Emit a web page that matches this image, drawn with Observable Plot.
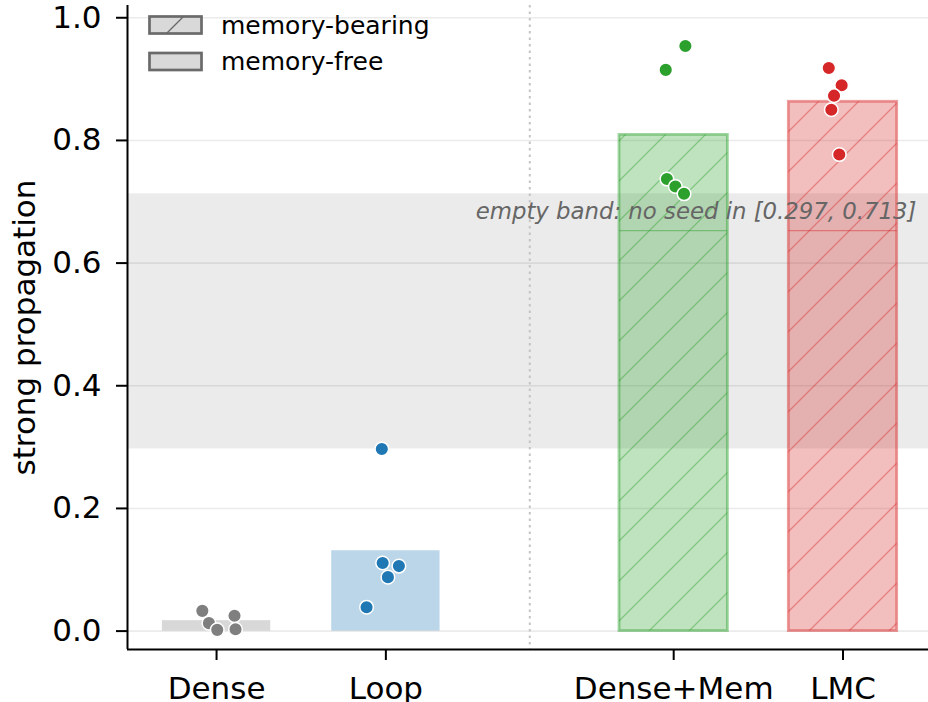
<!DOCTYPE html>
<html><head><meta charset="utf-8">
<script src="https://cdn.jsdelivr.net/npm/d3@7"></script>
<script src="https://cdn.jsdelivr.net/npm/@observablehq/plot@0.6"></script>
<style>
body{margin:0;background:#fff;}
#chart{width:928px;height:702px;}
svg{font-family:"DejaVu Sans",sans-serif;}
</style></head><body><div id="chart"></div>
<script>
// ---- data ----
const groups = ["Dense", "Loop", "Dense+Mem", "LMC"];
const groupPos = [0, 1, 2.7, 3.7];
const groupColors = ["#7f7f7f", "#1f77b4", "#2ca02c", "#d62728"];
const memoryBearing = [false, false, true, true];
const barMeans = [0.017, 0.131, 0.809, 0.863];
const seedGroup  = [0,0,0,0,0, 1,1,1,1,1, 2,2,2,2,2, 3,3,3,3,3];
const seedJitter = [-0.084,-0.045,0.004,0.106,0.112, -0.024,-0.019,0.077,0.012,-0.114, 0.069,-0.047,-0.040,0.010,0.061, -0.084,-0.008,-0.053,-0.069,-0.022];
const seedValue  = [0.033,0.013,0.002,0.025,0.003, 0.297,0.111,0.106,0.088,0.039, 0.954,0.915,0.737,0.725,0.713, 0.918,0.890,0.873,0.850,0.777];
const emptyBand = [0.297, 0.713];
const bandNote = "empty band: no seed in [0.297, 0.713]";
const separatorPos = [1.85];
const hatchSeam = 0.653;
const yTicks = [0, 0.2, 0.4, 0.6, 0.8, 1.0];
const legendLabels = ["memory-bearing", "memory-free"];
const yLabel = "strong propagation";

// ---- tables ----
const halfWidth = 0.32;
const bars = groups.map((g, i) => ({
  g, i, pos: groupPos[i], mean: barMeans[i], color: groupColors[i], mem: memoryBearing[i],
  hatch: `url(#hatch-${i})`
}));
const memBars = bars.filter(d => d.mem);
const seeds = seedValue.map((v, k) => ({
  x: groupPos[seedGroup[k]] + seedJitter[k], y: v, color: groupColors[seedGroup[k]]
}));
const band = [{lo: emptyBand[0], hi: emptyBand[1]}];

const xDomain = [-0.526, 4.205];
const yDomain = [-0.03, 1.02];
const FS = 31;

const plot = Plot.plot({
  width: 928, height: 702,
  marginLeft: 127, marginRight: 0, marginTop: 5, marginBottom: 53,
  style: {fontFamily: "DejaVu Sans, sans-serif", fontSize: FS + "px", color: "#000", background: "#fff", overflow: "visible"},
  x: {type: "linear", domain: xDomain},
  y: {domain: yDomain},
  color: {type: "identity"},
  marks: [
    Plot.rect(band, {y1: "lo", y2: "hi", fill: "#ebebeb"}),
    Plot.ruleY(yTicks, {stroke: "#000", strokeOpacity: 0.08, strokeWidth: 1.6}),
    Plot.ruleX(separatorPos, {stroke: "#c4c4c4", strokeWidth: 2, strokeDasharray: "2.5,4"}),
    Plot.rect(bars, {x1: d => d.pos - halfWidth, x2: d => d.pos + halfWidth, y1: 0, y2: "mean", fill: "color", fillOpacity: 0.3}),
    Plot.ruleY(memBars, {y: () => hatchSeam, x1: d => d.pos - halfWidth, x2: d => d.pos + halfWidth, stroke: "color", strokeOpacity: 0.45, strokeWidth: 1.2}),
    Plot.rect(memBars, {x1: d => d.pos - halfWidth, x2: d => d.pos + halfWidth, y1: 0, y2: "mean", fill: "hatch", stroke: "color", strokeOpacity: 0.45, strokeWidth: 2.8}),
    Plot.text(band, {y: "hi", frameAnchor: "right", text: () => bandNote, textAnchor: "end", dx: -12, dy: 18, fontStyle: "italic", fontSize: 22.8, fill: "#666"}),
    Plot.dot(seeds, {x: "x", y: "y", r: 6.8, fill: "color", stroke: "white", strokeWidth: 1.5}),
    Plot.ruleX([xDomain[0]], {stroke: "#000", strokeWidth: 2}),
    Plot.ruleY([yDomain[0]], {stroke: "#000", strokeWidth: 2}),
    Plot.axisX(groupPos, {tickFormat: d => groups[groupPos.indexOf(d)], tickSize: 11, tickPadding: 16, strokeWidth: 2, label: null, fontSize: FS}),
    Plot.axisY(yTicks, {tickFormat: d3.format(".1f"), tickSize: 11, tickPadding: 15, strokeWidth: 2, label: null, fontSize: FS}),
    Plot.text([yLabel], {frameAnchor: "left", rotate: -90, dx: -102, fontSize: FS, textAnchor: "middle", lineAnchor: "middle", fill: "#000"})
  ]
});

// hatch patterns + legend
const svg = d3.select(plot);
const defs = svg.insert("defs", ":first-child");
function addHatch(id, color, opacity) {
  const p = defs.append("pattern").attr("id", id).attr("patternUnits", "userSpaceOnUse")
    .attr("width", 40).attr("height", 40);
  p.append("path").attr("d", "M-10,10 L10,-10 M0,40 L40,0 M30,50 L50,30")
    .attr("stroke", color).attr("stroke-opacity", opacity).attr("stroke-width", 1.3).attr("fill", "none");
}
groupColors.forEach((c, i) => addHatch(`hatch-${i}`, c, 0.42));
addHatch("hatch-legend", "#666", 1);

const lg = svg.append("g").attr("aria-label", "legend");
legendLabels.forEach((lab, k) => {
  const y0 = 16.5 + k * 36.5;
  lg.append("rect").attr("x", 149.5).attr("y", y0).attr("width", 52).attr("height", 17)
    .attr("fill", "#d9d9d9").attr("stroke", "#6a6a6a").attr("stroke-width", 2.7);
  if (k === 0) {
    lg.append("rect").attr("x", 149.5).attr("y", y0).attr("width", 52).attr("height", 17)
      .attr("fill", "url(#hatch-legend)").attr("stroke", "none");
  }
  lg.append("text").attr("x", 221).attr("y", y0 + 8.5).attr("dy", "0.35em")
    .attr("text-anchor", "start").attr("font-size", 25).attr("fill", "#000").text(lab);
});

document.getElementById("chart").appendChild(plot);
</script></body></html>
